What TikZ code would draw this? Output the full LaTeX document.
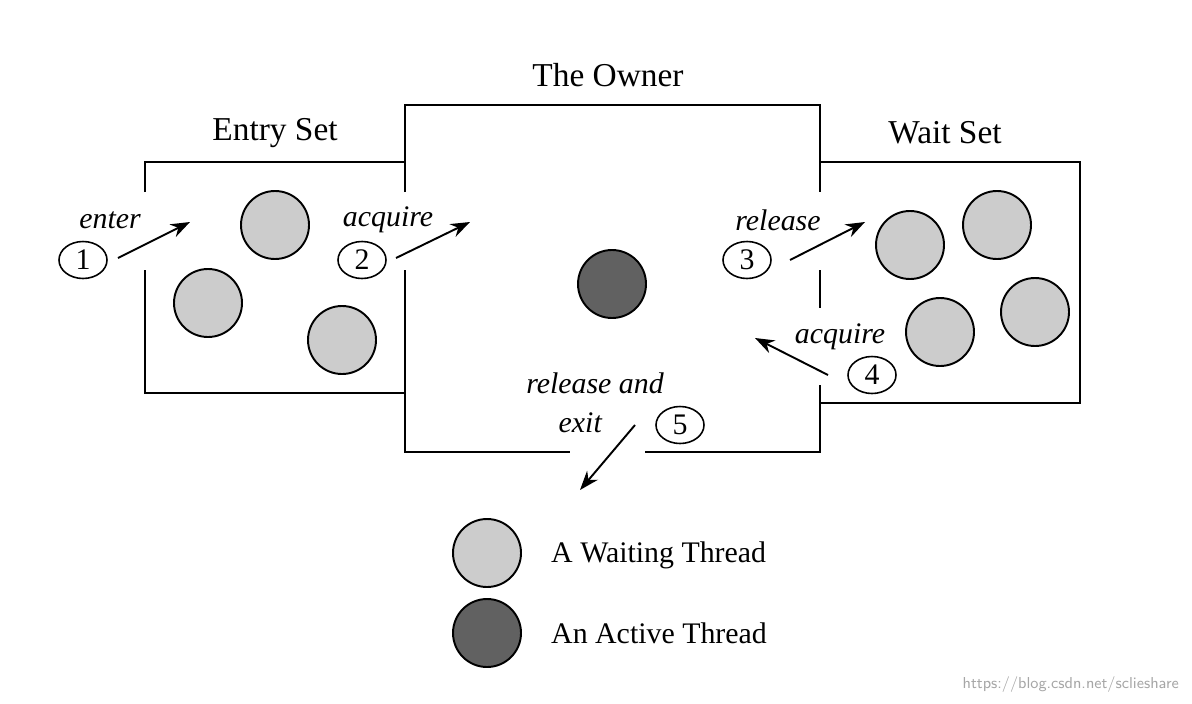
\documentclass[tikz,border=0pt]{standalone}
\usepackage{fontspec}
\setmainfont{Liberation Serif}
\usetikzlibrary{shapes.geometric,arrows.meta}
\begin{document}
\begin{tikzpicture}[x=0.02cm,y=-0.02cm,
  wall/.style={line width=1.6pt},
  wt/.style={circle,draw,line width=1.1pt,minimum size=68*0.02cm,inner sep=0pt,fill=black!20},
  act/.style={wt,fill=black!62},
  num/.style={ellipse,draw,line width=0.9pt,minimum width=48*0.02cm,minimum height=37*0.02cm,inner sep=0pt,font=\fontsize{17}{17}\selectfont},
  lab/.style={font=\fontsize{17}{17}\selectfont\itshape},
  ttl/.style={font=\fontsize{19}{19}\selectfont},
  arr/.style={line width=1.1pt,-{Stealth[length=11pt,width=8pt]}}]
\useasboundingbox (0,0) rectangle (1192,703);
% walls
\draw[wall] (145,192) -- (145,162) -- (405,162);
\draw[wall] (145,270) -- (145,393) -- (405,393);
\draw[wall] (405,192) -- (405,105) -- (820,105) -- (820,192);
\draw[wall] (405,270) -- (405,452) -- (570,452);
\draw[wall] (645,452) -- (820,452) -- (820,385);
\draw[wall] (820,270) -- (820,308);
\draw[wall] (820,162) -- (1080,162) -- (1080,403) -- (820,403);
% titles
\node[ttl] (t1) at (275,133) {Entry Set};
\node[ttl] (t2) at (608,75) {The Owner};
\node[ttl] (t3) at (945,133) {Wait Set};
% threads
\node[wt] (e1) at (275,225) {};
\node[wt] (e2) at (208,303) {};
\node[wt] (e3) at (342,340) {};
\node[wt] (w1) at (910,245) {};
\node[wt] (w2) at (997,225) {};
\node[wt] (w3) at (940,332) {};
\node[wt] (w4) at (1035,312) {};
\node[act] (o) at (612,284) {};
% numbers
\node[num] (n1) at (83,260) {1};
\node[num] (n2) at (362,260) {2};
\node[num] (n3) at (747,260) {3};
\node[num] (n4) at (872,375) {4};
\node[num] (n5) at (680,425) {5};
% labels
\node[lab] (l1) at (110,220) {enter};
\node[lab] (l2) at (388,220) {acquire};
\node[lab] (l3) at (778,220) {release};
\node[lab] (l4) at (840,337) {acquire};
\node[lab] (l5) at (595,383) {release and};
\node[lab,anchor=east] (l6) at (608,423) {exit};
% arrow endpoints
\coordinate (a1s) at (118,258); \coordinate (a1e) at (190,222);
\coordinate (a2s) at (396,258); \coordinate (a2e) at (470,222);
\coordinate (a3s) at (790,260); \coordinate (a3e) at (865,222);
\coordinate (a4s) at (828,375); \coordinate (a4e) at (755,338);
\coordinate (a5s) at (635,425); \coordinate (a5e) at (580,490);
\draw[arr] (a1s) -- (a1e);
\draw[arr] (a2s) -- (a2e);
\draw[arr] (a3s) -- (a3e);
\draw[arr] (a4s) -- (a4e);
\draw[arr] (a5s) -- (a5e);
% legend
\node[wt] (lg1) at (487,553) {};
\node[act] (lg2) at (487,633) {};
\node[anchor=west,font=\fontsize{17}{17}\selectfont] (lt1) at (545,555) {A Waiting Thread};
\node[anchor=west,font=\fontsize{17}{17}\selectfont] (lt2) at (545,633) {An Active Thread};
\node[anchor=east,text=black!35,font=\sffamily\fontsize{9}{9}\selectfont] (wm) at (1185,685) {https://blog.csdn.net/sclieshare};
\end{tikzpicture}
\end{document}
